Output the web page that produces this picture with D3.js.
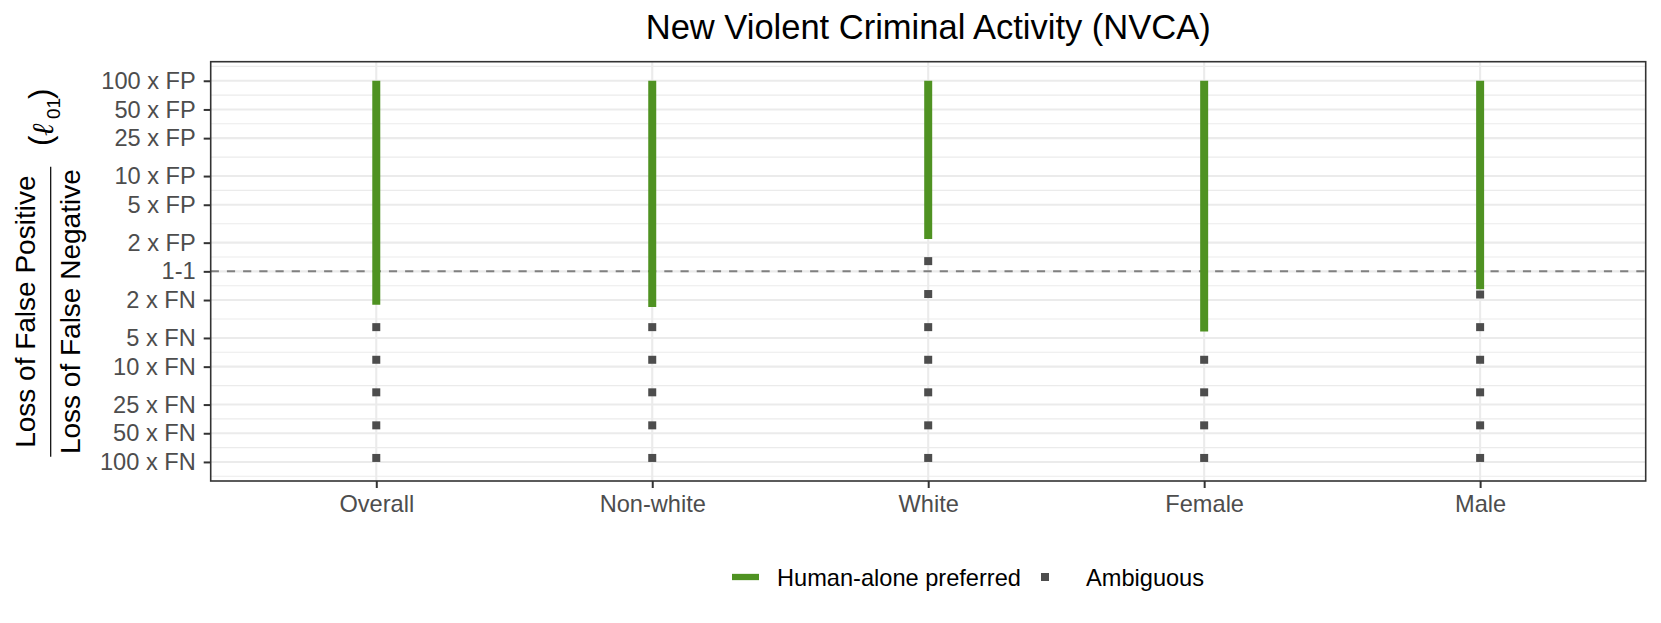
<!DOCTYPE html>
<html lang="en">
	<head>
		<meta charset="utf-8">
		<title>New Violent Criminal Activity (NVCA)</title>
		<script type="text/javascript" src="https://cdn.jsdelivr.net/npm/d3@7"></script>
		<style type="text/css">
			body {
				margin: 0;
				background: white;
			}
			svg text {
				font-family: "Liberation Sans", Arial, Helvetica, sans-serif;
			}
		</style>
	</head>
	<body>
		<script type="text/javascript">

			// Categories along the x axis
			var categories = ["Overall", "Non-white", "White", "Female", "Male"];

			// Ratios: positive = "x FP", negative = "x FN", 1 = "1-1"
			// Human-alone preferred range (low end / high end) per category
			var preferredLow  = [-2.24, -2.37, 2.18, -4.28, -1.54];
			var preferredHigh = [100, 100, 100, 100, 100];

			// Ambiguous points per category
			var ambiguous = [
				[-3.85, -8.47, -18.6, -41.3, -90.8],
				[-3.85, -8.47, -18.6, -41.3, -90.8],
				[1.28, -1.73, -3.85, -8.47, -18.6, -41.3, -90.8],
				[-8.47, -18.6, -41.3, -90.8],
				[-1.75, -3.85, -8.47, -18.6, -41.3, -90.8]
			];

			// Y ticks
			var tickRatios = [100, 50, 25, 10, 5, 2, 1, -2, -5, -10, -25, -50, -100];
			var tickLabels = ["100 x FP", "50 x FP", "25 x FP", "10 x FP", "5 x FP", "2 x FP", "1-1",
							  "2 x FN", "5 x FN", "10 x FN", "25 x FN", "50 x FN", "100 x FN"];

			//Width and height
			var w = 1661;
			var h = 623;
			var panelL = 210.7, panelR = 1645.7, panelT = 61.7, panelB = 481;

			var green = "#4f9222";
			var grey = "#4d4d4d";
			var grid = "#ebebeb";

			// signed log10 transform
			var slog = function(r) {
				if (r === 1) return 0;
				return Math.sign(r) * Math.log10(Math.abs(r));
			};

			var xScale = d3.scalePoint()
							.domain(categories)
							.range([panelL, panelR])
							.padding(0.6);

			var yScale = d3.scaleLinear()
							.domain([-2.2, 2.2])
							.range([panelB, panelT]);

			var majors = tickRatios.map(slog);
			// minor breaks halfway between majors, plus one beyond each end
			var minors = [];
			for (var i = 0; i < majors.length - 1; i++) {
				minors.push((majors[i] + majors[i + 1]) / 2);
			}
			minors.push(majors[0] + (majors[0] - majors[1]) / 2);
			minors.push(majors[majors.length - 1] - (majors[majors.length - 2] - majors[majors.length - 1]) / 2);

			//Create SVG element
			var svg = d3.select("body")
						.append("svg")
						.attr("width", w)
						.attr("height", h);

			svg.append("rect")
			   .attr("width", w).attr("height", h).attr("fill", "white");

			// Grid
			svg.selectAll("line.minor")
			   .data(minors)
			   .enter()
			   .append("line")
			   .attr("class", "minor")
			   .attr("x1", panelL).attr("x2", panelR)
			   .attr("y1", function(d) { return yScale(d); })
			   .attr("y2", function(d) { return yScale(d); })
			   .attr("stroke", grid)
			   .attr("stroke-width", 1.1);

			svg.selectAll("line.major")
			   .data(majors)
			   .enter()
			   .append("line")
			   .attr("class", "major")
			   .attr("x1", panelL).attr("x2", panelR)
			   .attr("y1", function(d) { return yScale(d); })
			   .attr("y2", function(d) { return yScale(d); })
			   .attr("stroke", grid)
			   .attr("stroke-width", 2.1);

			svg.selectAll("line.vgrid")
			   .data(categories)
			   .enter()
			   .append("line")
			   .attr("class", "vgrid")
			   .attr("x1", function(d) { return xScale(d); })
			   .attr("x2", function(d) { return xScale(d); })
			   .attr("y1", panelT).attr("y2", panelB)
			   .attr("stroke", grid)
			   .attr("stroke-width", 2.1);

			// dashed 1-1 line
			svg.append("line")
			   .attr("x1", panelL).attr("x2", panelR)
			   .attr("y1", yScale(0)).attr("y2", yScale(0))
			   .attr("stroke", "#808080")
			   .attr("stroke-width", 2)
			   .attr("stroke-dasharray", "8.2,8");

			// Human-alone preferred bars
			svg.selectAll("line.pref")
			   .data(categories)
			   .enter()
			   .append("line")
			   .attr("class", "pref")
			   .attr("x1", function(d) { return xScale(d); })
			   .attr("x2", function(d) { return xScale(d); })
			   .attr("y1", function(d, i) { return yScale(slog(preferredLow[i])); })
			   .attr("y2", function(d, i) { return yScale(slog(preferredHigh[i])); })
			   .attr("stroke", green)
			   .attr("stroke-width", 8);

			// Ambiguous squares
			var pts = [];
			categories.forEach(function(c, i) {
				ambiguous[i].forEach(function(v) { pts.push({ cat: c, value: v }); });
			});

			svg.selectAll("rect.amb")
			   .data(pts)
			   .enter()
			   .append("rect")
			   .attr("class", "amb")
			   .attr("x", function(d) { return xScale(d.cat) - 4; })
			   .attr("y", function(d) { return yScale(slog(d.value)) - 4; })
			   .attr("width", 8)
			   .attr("height", 8)
			   .attr("fill", grey);

			// Panel border
			svg.append("rect")
			   .attr("x", panelL).attr("y", panelT)
			   .attr("width", panelR - panelL).attr("height", panelB - panelT)
			   .attr("fill", "none")
			   .attr("stroke", "#333333")
			   .attr("stroke-width", 1.6);

			// Axes
			var yAxis = d3.axisLeft(yScale)
						  .tickValues(majors)
						  .tickFormat(function(d, i) { return tickLabels[i]; })
						  .tickSize(7)
						  .tickPadding(8);

			var gy = svg.append("g")
						.attr("transform", "translate(" + panelL + ",0)")
						.call(yAxis);

			var xAxis = d3.axisBottom(xScale)
						  .tickSize(7)
						  .tickPadding(7.4);

			var gx = svg.append("g")
						.attr("transform", "translate(0," + panelB + ")")
						.call(xAxis);

			[gx, gy].forEach(function(g) {
				g.select(".domain").remove();
				g.selectAll(".tick line").attr("stroke", "#333333").attr("stroke-width", 2);
				g.selectAll(".tick text")
				 .attr("fill", grey)
				 .style("font-size", "23.6px");
			});

			// Title
			svg.append("text")
			   .attr("x", (panelL + panelR) / 2)
			   .attr("y", 39)
			   .attr("text-anchor", "middle")
			   .style("font-size", "34.5px")
			   .attr("fill", "black")
			   .text("New Violent Criminal Activity (NVCA)");

			// Y axis title: fraction and (l01), rotated
			var yt = svg.append("g").attr("transform", "rotate(-90)");

			yt.append("text")
			  .attr("x", -311.7).attr("y", 35)
			  .attr("text-anchor", "middle")
			  .style("font-size", "28px")
			  .text("Loss of False Positive");

			yt.append("line")
			  .attr("x1", -456.7).attr("x2", -166.7)
			  .attr("y1", 50.7).attr("y2", 50.7)
			  .attr("stroke", "black")
			  .attr("stroke-width", 1.2);

			yt.append("text")
			  .attr("x", -311.7).attr("y", 80)
			  .attr("text-anchor", "middle")
			  .style("font-size", "28px")
			  .text("Loss of False Negative");

			yt.append("text").attr("x", -146).attr("y", 51)
			  .style("font-size", "31px").text("(");
			yt.append("text").attr("x", -136).attr("y", 53)
			  .style("font-size", "30px")
			  .style("font-family", "'DejaVu Serif', serif")
			  .style("font-style", "italic")
			  .text("\u2113");
			yt.append("text").attr("x", -119).attr("y", 60)
			  .style("font-size", "19px").text("01");
			yt.append("text").attr("x", -99).attr("y", 51)
			  .style("font-size", "31px").text(")");

			// Legend
			var lg = svg.append("g");
			lg.append("line")
			  .attr("x1", 732).attr("x2", 759)
			  .attr("y1", 577).attr("y2", 577)
			  .attr("stroke", green)
			  .attr("stroke-width", 6.3);
			lg.append("text")
			  .attr("x", 777).attr("y", 585.5)
			  .style("font-size", "23.6px")
			  .text("Human-alone preferred");
			lg.append("rect")
			  .attr("x", 1041).attr("y", 573)
			  .attr("width", 8).attr("height", 8)
			  .attr("fill", grey);
			lg.append("text")
			  .attr("x", 1086).attr("y", 585.5)
			  .style("font-size", "23.6px")
			  .text("Ambiguous");

		</script>
	</body>
</html>
